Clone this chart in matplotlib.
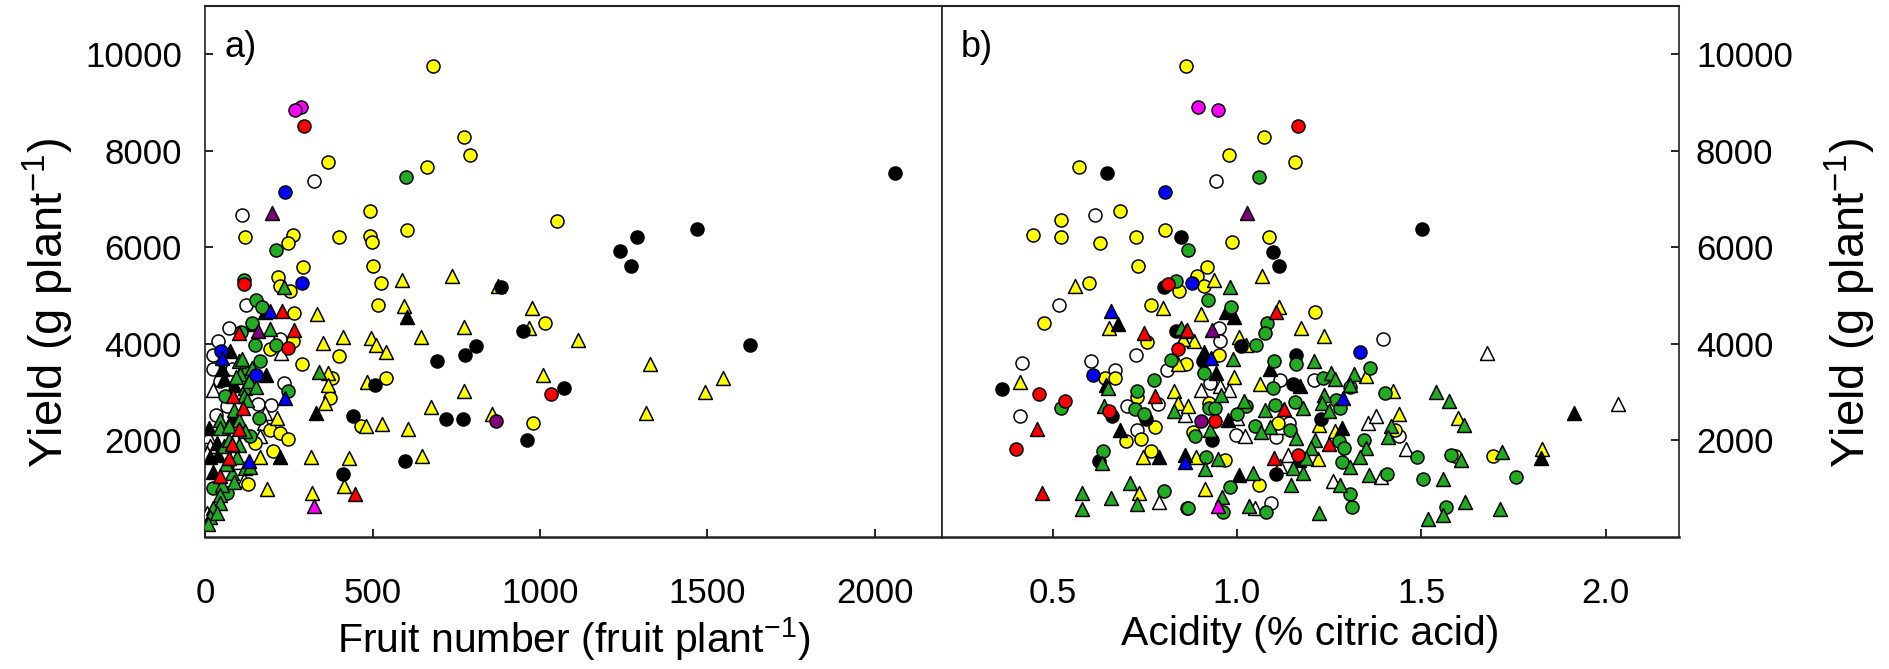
import matplotlib
matplotlib.use("Agg")
import matplotlib.pyplot as plt

plt.rcParams['font.family'] = ['Liberation Sans', 'DejaVu Sans']
plt.rcParams['mathtext.fontset'] = 'custom'
plt.rcParams['mathtext.rm'] = 'Liberation Sans'
plt.rcParams['mathtext.it'] = 'Liberation Sans:italic'
plt.rcParams['mathtext.default'] = 'regular'

# ---------------- Panel a: fruit number vs yield ----------------
a_ycirc_x = [679, 367, 662, 774, 790, 492, 118, 261, 247, 399, 492, 497, 601, 1050, 293, 501, 217, 224, 252, 525,
             515, 265, 263, 194, 400, 288, 379, 539, 1014, 372, 464, 194, 222, 246, 202, 980, 127, 149]
a_ycirc_y = [9750, 7770, 7652, 8284, 7902, 6743, 6208, 6257, 6083, 6208, 6222, 6104, 6354, 6548, 5590, 5611, 5388, 5201, 5097, 5257,
             4805, 4645, 4048, 3881, 3750, 3569, 3291, 3291, 4437, 2882, 2285, 2201, 2146, 2028, 1777, 2347, 1090, 1937]

a_kcirc_x = [691, 507, 441, 719, 771, 596, 412, 1238, 1290, 1271, 1468, 883, 948, 809, 777, 1072, 960, 1626, 2060]
a_kcirc_y = [3646, 3139, 2507, 2444, 2444, 1576, 1299, 5916, 6208, 5611, 6381, 5166, 4263, 3951, 3770, 3076, 1993, 3965, 7541]

a_ytri_x = [737, 588, 592, 334, 350, 411, 494, 509, 539, 643, 367, 367, 484, 357, 674, 214, 479, 529, 604, 162,
            314, 428, 647, 184, 319, 414, 874, 773, 976, 966, 1114, 773, 1009, 1330, 1317, 856, 1494, 1547]
a_ytri_y = [5409, 5326, 4770, 4611, 4007, 4145, 4125, 3965, 3833, 4145, 3395, 3152, 3208, 2770, 2687, 2458, 2285, 2333, 2236, 1659,
            1659, 1625, 1673, 979, 896, 1048, 5201, 4354, 4743, 4326, 4076, 3013, 3340, 3583, 2562, 2541, 3000, 3278]

a_gcirc_x = [599, 211, 114, 152, 169, 139, 149, 210, 162, 248, 107, 124, 59, 159, 134, 24, 64]
a_gcirc_y = [7458, 5951, 5312, 4909, 4750, 4437, 3979, 3965, 3632, 3014, 4249, 3395, 2909, 2458, 2090, 1000, 895]

a_gtri_x = [235, 194, 338, 99, 109, 104, 119, 129, 84, 114, 124, 44, 99, 44, 69, 119, 54, 94, 119, 134,
            79, 84, 49, 44, 44, 24, 14, 9, 34, 70, 100, 60, 140, 150, 90]
a_gtri_y = [5180, 4312, 3409, 3638, 3673, 3361, 3083, 3222, 2631, 2909, 2840, 2423, 2423, 2250, 2284, 2180, 1868, 1659, 1416, 1451,
            1312, 1138, 1069, 861, 687, 583, 409, 256, 479, 2000, 1900, 1500, 3500, 3100, 3300]

a_wcirc_x = [325, 110, 122, 69, 222, 37, 22, 235, 158, 197, 22, 79, 44, 64, 32]
a_wcirc_y = [7382, 6673, 4805, 4333, 4104, 4055, 3757, 3187, 2756, 2722, 3465, 3465, 3222, 2701, 2527]

a_wtri_x = [226, 24, 179, 174, 9, 164, 14, 4, 99, 114, 4]
a_wtri_y = [3812, 3048, 2562, 2354, 2076, 2076, 1868, 1729, 1555, 1173, 479]

a_ktri_x = [601, 179, 144, 182, 331, 222, 74, 49, 54, 84, 79, 12, 34, 14, 39, 24]
a_ktri_y = [4555, 4646, 4402, 3347, 2562, 1645, 3847, 3465, 3257, 3152, 2458, 2250, 1937, 1659, 1694, 1347]

a_rcirc_x = [294, 116, 246, 1034]
a_rcirc_y = [8513, 5236, 3909, 2965]
a_rtri_x = [229, 101, 266, 446, 81, 112, 99, 79, 69, 44]
a_rtri_y = [4680, 4229, 4284, 875, 2909, 2666, 2229, 1923, 1624, 1256]
a_bcirc_x = [239, 289, 46, 150]
a_bcirc_y = [7138, 5264, 3847, 3347]
a_btri_x = [194, 50, 237, 129]
a_btri_y = [4680, 3708, 2875, 1576]
a_mcirc_x = [287, 269]
a_mcirc_y = [8902, 8847]
a_mtri_x = [325]
a_mtri_y = [639]
a_ptri_x = [199, 156]
a_ptri_y = [6715, 4264]
a_pcirc_x = [867]
a_pcirc_y = [2388]

# ---------------- Panel b: acidity vs yield ----------------
b_ycirc_x = [0.863, 1.074, 0.979, 1.157, 0.572, 0.683, 0.523, 0.447, 0.522, 0.630, 0.727, 0.806, 0.987, 1.087, 0.733, 0.920,
             0.598, 0.844, 0.892, 0.911, 0.476, 0.767, 0.756, 0.862, 1.213, 0.951, 0.643, 0.670, 0.730, 0.777, 0.698, 0.740,
             0.767, 0.924, 1.112, 1.428, 0.881, 0.969, 1.059, 1.592, 1.696]
b_ycirc_y = [9749, 8284, 7902, 7770, 7652, 6742, 6555, 6256, 6201, 6076, 6215, 6353, 6104, 6208, 5610, 5590,
             5249, 5097, 5396, 5194, 4437, 4805, 4041, 3569, 4659, 3757, 3291, 3291, 2888, 2270, 1972, 2020,
             1777, 2771, 2354, 2215, 2160, 1590, 1070, 1660, 1674]

b_gcirc_x = [0.867, 1.060, 0.836, 0.822, 0.775, 0.524, 0.730, 0.723, 0.748, 0.636, 0.803, 0.864, 0.922, 0.985, 1.082, 1.075,
             1.053, 1.161, 1.102, 0.912, 1.098, 1.233, 1.362, 1.308, 1.401, 0.923, 0.941, 1.024, 1.103, 1.157, 1.270, 1.280,
             1.001, 1.143, 0.887, 1.048, 1.276, 1.290, 1.346, 1.488, 0.917, 1.285, 1.408, 1.505, 1.307, 1.312, 0.867, 0.962,
             0.982, 1.078, 1.582, 1.758, 1.568]
b_gcirc_y = [5951, 7458, 5305, 3659, 3243, 2659, 3013, 2645, 2541, 1777, 951, 583, 4902, 4750, 4437, 4222,
             3979, 3569, 3639, 3396, 3083, 3291, 3493, 3100, 2979, 2667, 2667, 2701, 2722, 2792, 2826, 2667,
             2548, 2215, 2076, 2285, 1972, 1833, 2007, 1659, 1659, 1555, 1292, 1187, 875, 618, 583, 500,
             1034, 514, 1681, 1243, 605]

b_gtri_x = [0.650, 0.639, 0.829, 0.635, 0.579, 0.579, 0.659, 0.709, 0.729, 0.849, 0.982, 0.989, 1.209, 1.254, 1.265, 1.317,
            1.308, 0.958, 1.539, 1.019, 1.075, 1.179, 1.235, 1.232, 1.251, 1.417, 1.410, 0.928, 1.089, 1.066, 1.161, 1.213,
            1.202, 1.351, 1.333, 0.950, 0.914, 1.043, 1.152, 1.179, 1.188, 1.307, 1.280, 1.358, 1.146, 0.959, 1.034, 1.224,
            1.518, 1.575, 1.615, 1.609, 1.720, 1.559, 1.559, 1.620, 1.715]
b_gtri_y = [3083, 2701, 2597, 1521, 896, 562, 791, 1118, 666, 4333, 5180, 3673, 3639, 3396, 3271, 3375,
            3132, 2944, 2993, 2805, 2632, 2667, 2944, 2771, 2611, 2284, 2056, 2201, 2264, 2160, 2042, 2007,
            1833, 1833, 1659, 1611, 1396, 1312, 1416, 1312, 1625, 1437, 1070, 1278, 1070, 826, 639, 479,
            354, 2806, 2320, 1590, 1743, 1188, 445, 708, 563]

b_ytri_x = [0.562, 0.939, 1.067, 0.652, 0.799, 0.853, 0.840, 0.829, 0.840, 0.867, 0.412, 0.746, 0.734, 0.902, 1.114, 1.175,
            1.236, 0.883, 0.854, 1.007, 1.025, 0.991, 1.063, 1.349, 1.423, 1.440, 1.224, 1.265, 0.890, 1.220, 0.914, 1.601, 1.827]
b_ytri_y = [5201, 5326, 5396, 4333, 4736, 4104, 3583, 3028, 2770, 2701, 3208, 1659, 909, 4611, 4764, 4326,
            4159, 4055, 4090, 4145, 3972, 3312, 3173, 3326, 3014, 2542, 2319, 2180, 1646, 1611, 979, 2458, 1813]

b_kcirc_x = [0.647, 0.848, 0.802, 0.835, 0.364, 0.661, 0.754, 0.626, 1.502, 1.098, 1.114, 1.012, 0.908, 1.161, 1.152, 0.932, 1.227, 1.107]
b_kcirc_y = [7534, 6201, 5166, 4263, 3069, 2493, 2437, 1576, 6382, 5909, 5604, 3951, 3638, 3771, 3153, 2007, 2437, 1299]

b_ktri_x = [0.677, 0.645, 0.683, 0.790, 0.860, 0.971, 0.992, 0.910, 0.944, 1.089, 1.170, 0.976, 1.285, 1.005, 1.168, 1.914, 1.824]
b_ktri_y = [4416, 3152, 2201, 1659, 1694, 4659, 4555, 3826, 3382, 3479, 3118, 2423, 2250, 1278, 1590, 2563, 1625]

b_wcirc_x = [0.614, 0.944, 0.517, 0.727, 0.811, 0.417, 0.604, 0.668, 0.412, 0.786, 0.701, 0.728, 0.951, 0.953, 1.397, 0.926,
             1.116, 1.209, 1.140, 1.441, 0.998, 1.107, 1.093]
b_wcirc_y = [6673, 7382, 4805, 3757, 3444, 3603, 3638, 3451, 2500, 2750, 2715, 2201, 4333, 4048, 4090, 3187,
             3256, 3236, 2354, 2090, 2111, 2062, 687]

b_wtri_x = [0.858, 0.788, 0.902, 0.953, 0.978, 1.000, 1.121, 1.355, 1.378, 1.021, 1.459, 1.116, 1.138, 1.260, 1.392, 1.050, 1.679, 2.033]
b_wtri_y = [2527, 722, 3035, 3118, 3048, 2458, 2264, 2354, 2507, 2076, 1812, 1465, 1694, 1160, 1243, 597, 3799, 2757]

b_rcirc_x = [1.167, 0.814, 0.840, 0.463, 0.533, 0.402, 0.653, 0.941, 1.167]
b_rcirc_y = [8513, 5236, 3895, 2958, 2819, 1812, 2611, 2403, 1694]
b_rtri_x = [0.749, 0.862, 0.459, 0.472, 0.779, 1.107, 0.865, 1.129, 1.250, 1.100]
b_rtri_y = [4229, 4263, 2229, 896, 2923, 4666, 4284, 2653, 1917, 1625]
b_bcirc_x = [0.805, 0.877, 0.610, 1.333]
b_bcirc_y = [7145, 5257, 3340, 3833]
b_btri_x = [0.659, 0.858, 0.931, 1.288]
b_btri_y = [4680, 1555, 3708, 2875]
b_mcirc_x = [0.895, 0.949]
b_mcirc_y = [8902, 8847]
b_mtri_x = [0.950]
b_mtri_y = [632]
b_ptri_x = [1.027, 0.933]
b_ptri_y = [6715, 4284]
b_pcirc_x = [0.902]
b_pcirc_y = [2403]

x_ticks_a = [0, 500, 1000, 1500, 2000]
x_ticks_b = [0.5, 1.0, 1.5, 2.0]
x_ticklabels_b = ['0.5', '1.0', '1.5', '2.0']
y_ticks = [2000, 4000, 6000, 8000, 10000]

GREEN = '#22aa22'
YELLOW = '#ffff00'
S_C = 88
S_T = 100

fig = plt.figure(figsize=(18.9, 6.69), dpi=100)
axa = fig.add_axes([0.1087, 0.198, 0.3895, 0.793])
axb = fig.add_axes([0.4984, 0.198, 0.3901, 0.793])


def draw(ax, d):
    order = [
        ('wcirc', 'white', 'o'), ('wtri', 'white', '^'),
        ('ycirc', YELLOW, 'o'), ('ytri', YELLOW, '^'),
        ('kcirc', 'black', 'o'), ('ktri', 'black', '^'),
        ('gcirc', GREEN, 'o'), ('gtri', GREEN, '^'),
        ('rcirc', 'red', 'o'), ('rtri', 'red', '^'),
        ('bcirc', 'blue', 'o'), ('btri', 'blue', '^'),
        ('mcirc', 'magenta', 'o'), ('mtri', 'magenta', '^'),
        ('pcirc', 'purple', 'o'), ('ptri', 'purple', '^'),
    ]
    for i, (key, col, mk) in enumerate(order):
        xs, ys = d[key]
        ax.scatter(xs, ys, s=S_C if mk == 'o' else S_T, c=col, marker=mk,
                   edgecolors='black', linewidths=1.1, zorder=3 + i * 0.01)


groups_a = {
    'ycirc': (a_ycirc_x, a_ycirc_y), 'kcirc': (a_kcirc_x, a_kcirc_y), 'ytri': (a_ytri_x, a_ytri_y),
    'gcirc': (a_gcirc_x, a_gcirc_y), 'gtri': (a_gtri_x, a_gtri_y), 'wcirc': (a_wcirc_x, a_wcirc_y),
    'wtri': (a_wtri_x, a_wtri_y), 'ktri': (a_ktri_x, a_ktri_y), 'rcirc': (a_rcirc_x, a_rcirc_y),
    'rtri': (a_rtri_x, a_rtri_y), 'bcirc': (a_bcirc_x, a_bcirc_y), 'btri': (a_btri_x, a_btri_y),
    'mcirc': (a_mcirc_x, a_mcirc_y), 'mtri': (a_mtri_x, a_mtri_y), 'ptri': (a_ptri_x, a_ptri_y),
    'pcirc': (a_pcirc_x, a_pcirc_y),
}
groups_b = {
    'ycirc': (b_ycirc_x, b_ycirc_y), 'kcirc': (b_kcirc_x, b_kcirc_y), 'ytri': (b_ytri_x, b_ytri_y),
    'gcirc': (b_gcirc_x, b_gcirc_y), 'gtri': (b_gtri_x, b_gtri_y), 'wcirc': (b_wcirc_x, b_wcirc_y),
    'wtri': (b_wtri_x, b_wtri_y), 'ktri': (b_ktri_x, b_ktri_y), 'rcirc': (b_rcirc_x, b_rcirc_y),
    'rtri': (b_rtri_x, b_rtri_y), 'bcirc': (b_bcirc_x, b_bcirc_y), 'btri': (b_btri_x, b_btri_y),
    'mcirc': (b_mcirc_x, b_mcirc_y), 'mtri': (b_mtri_x, b_mtri_y), 'ptri': (b_ptri_x, b_ptri_y),
    'pcirc': (b_pcirc_x, b_pcirc_y),
}

draw(axa, groups_a)
draw(axb, groups_b)

ylab = 'Yield (g plant$^{-1}$)'
TICK_FS = 25
YLAB_FS = 34

axa.set_xlim(0, 2200)
axa.set_ylim(0, 11000)
axa.set_xticks(x_ticks_a)
axa.set_xticklabels([str(v) for v in x_ticks_a])
axa.set_yticks(y_ticks)
axa.set_yticklabels([str(v) for v in y_ticks])
axa.tick_params(axis='x', direction='in', length=6, width=1.2, labelsize=TICK_FS, pad=29)
axa.tick_params(axis='y', direction='in', length=6, width=1.2, labelsize=TICK_FS, pad=17)
axa.set_xlabel('Fruit number (fruit plant$^{-1}$)', fontsize=29.5, labelpad=4)
axa.set_ylabel(ylab, fontsize=YLAB_FS, va='center')
axa.yaxis.set_label_coords(-0.213, 0.44)
axa.text(0.026, 0.955, 'a)', transform=axa.transAxes, fontsize=26, va='top', ha='left')

axb.set_xlim(0.2, 2.2)
axb.set_ylim(0, 11000)
axb.set_xticks(x_ticks_b)
axb.set_xticklabels(x_ticklabels_b)
axb.set_yticks(y_ticks)
axb.set_yticklabels([str(v) for v in y_ticks])
axb.yaxis.tick_right()
axb.yaxis.set_label_position('right')
axb.tick_params(axis='x', direction='in', length=6, width=1.2, labelsize=TICK_FS, pad=29)
axb.tick_params(axis='y', direction='in', length=6, width=1.2, labelsize=TICK_FS, pad=12,
                left=False, right=True)
axb.set_xlabel('Acidity (% citric acid)', fontsize=29.5, labelpad=4)
axb.set_ylabel(ylab, fontsize=YLAB_FS, rotation=90, va='center')
axb.yaxis.set_label_coords(1.232, 0.44)
axb.text(0.026, 0.955, 'b)', transform=axb.transAxes, fontsize=26, va='top', ha='left')

for ax in (axa, axb):
    for sp in ax.spines.values():
        sp.set_linewidth(1.2)
        sp.set_color('#222222')
    ax.spines['bottom'].set_linewidth(1.8)
    ax.spines['top'].set_linewidth(1.5)

fig.savefig('out.png', dpi=100)
